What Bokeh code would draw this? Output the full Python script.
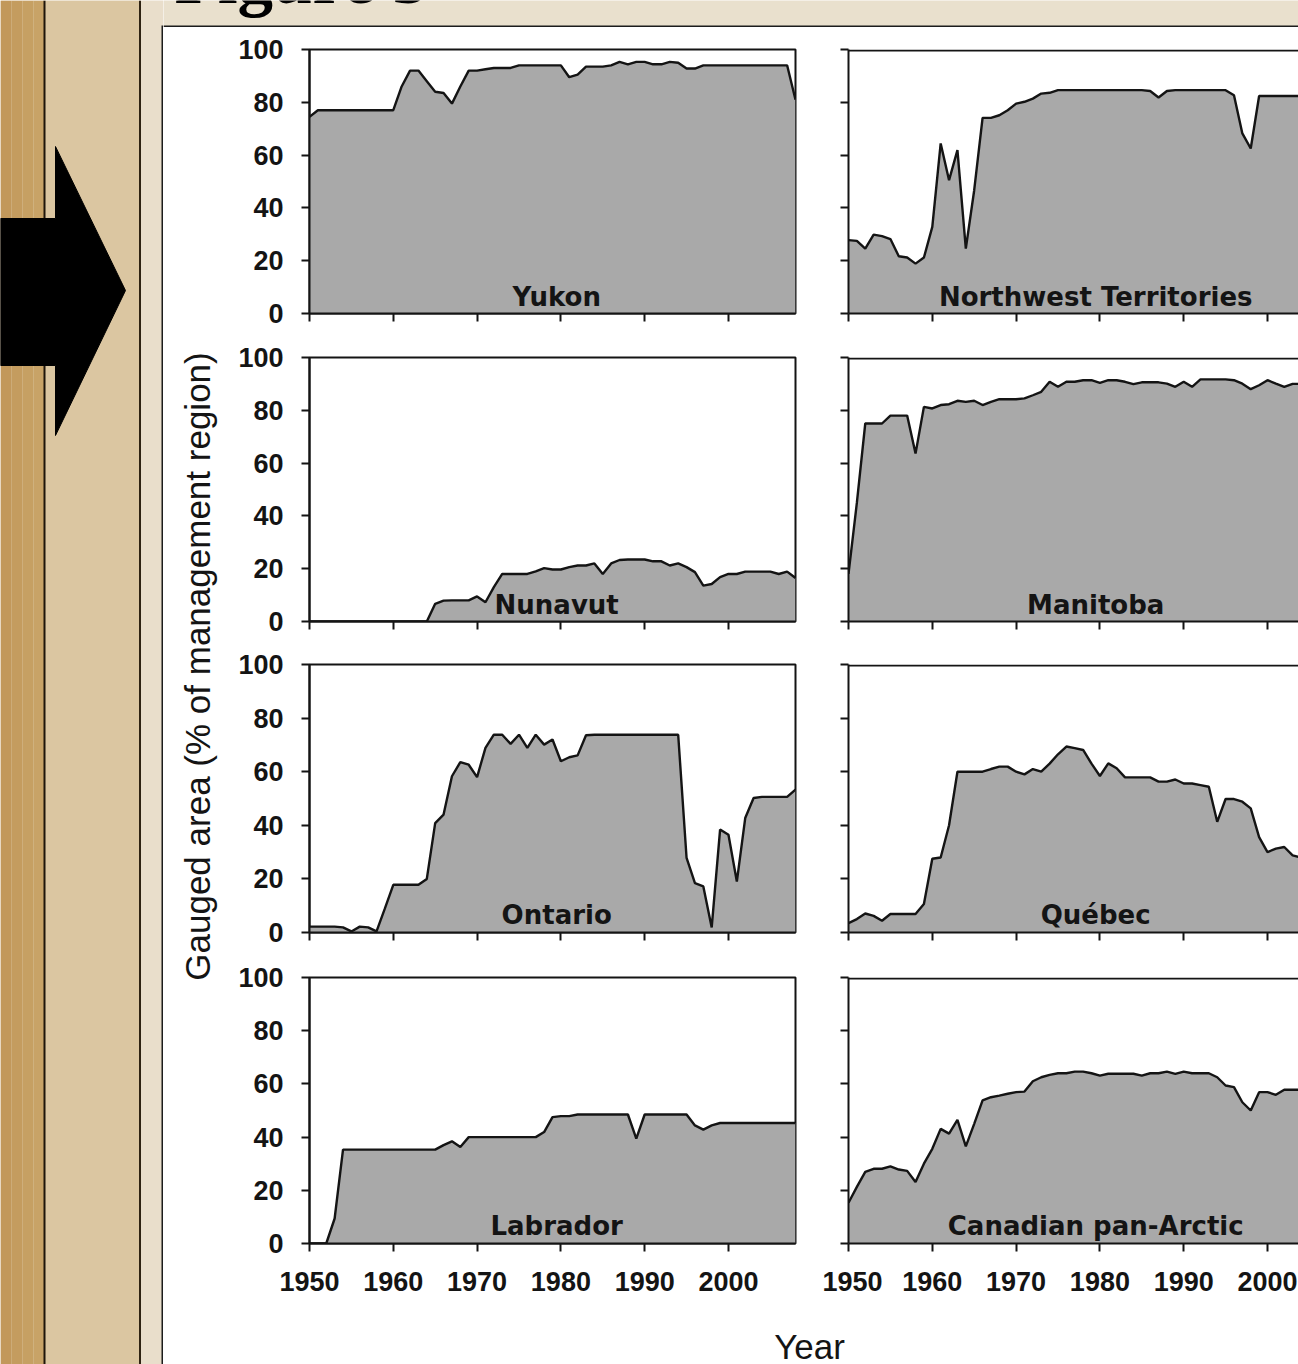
import math
from bokeh.plotting import figure
from bokeh.layouts import row, column
from bokeh.models import Range1d, Span, FixedTicker, Label
from bokeh.core.properties import value
from bokeh.embed import file_html
from bokeh.resources import INLINE

# ---------------- data ----------------
years = list(range(1950, 2009))
year_ticks = [1950, 1960, 1970, 1980, 1990, 2000]
pct_ticks = [0, 20, 40, 60, 80, 100]

yukon = [74.5, 77, 77, 77, 77, 77, 77, 77, 77, 77,
         77, 86, 92, 92, 88, 84, 83.5, 79.5, 86, 92,
         92, 92.5, 93, 93, 93, 94, 94, 94, 94, 94,
         94, 89.5, 90.5, 93.5, 93.5, 93.5, 94, 95.3, 94.4, 95.3,
         95.3, 94.4, 94.4, 95.3, 95, 92.8, 92.8, 94, 94, 94,
         94, 94, 94, 94, 94, 94, 94, 94, 81]

nwt = [27.8, 27.5, 24.6, 29.9, 29.3, 28.2, 21.7, 21.2, 18.9, 21.2,
       32.8, 64.4, 50.5, 61.9, 24.6, 46.7, 74.1, 74.1, 75.1, 77,
       79.5, 80.2, 81.4, 83.3, 83.6, 84.6, 84.6, 84.6, 84.6, 84.6,
       84.6, 84.6, 84.6, 84.6, 84.6, 84.6, 84.3, 81.8, 84.3, 84.6,
       84.6, 84.6, 84.6, 84.6, 84.6, 84.6, 82.7, 68.2, 62.5, 82.4,
       82.4, 82.4, 82.4, 82.4, 82.4, 82.4, 82.4, 82.4, 82.4]

nunavut = [0, 0, 0, 0, 0, 0, 0, 0, 0, 0,
           0, 0, 0, 0, 0, 6.7, 7.9, 8, 8, 8,
           9.5, 7.3, 13, 18, 18, 18, 18, 19, 20.2, 19.7,
           19.7, 20.6, 21.2, 21.2, 22, 18, 22, 23.3, 23.5, 23.5,
           23.5, 22.8, 22.8, 21.2, 22, 20.6, 18.7, 13.6, 14.2, 16.8,
           18, 18, 18.9, 18.9, 18.9, 18.9, 18, 18.9, 16.5]

manitoba = [18, 45, 75, 75, 75, 78, 78, 78, 63.6, 81.3,
            80.7, 82, 82.3, 83.6, 83.2, 83.6, 82, 83.2, 84.2, 84.2,
            84.2, 84.5, 85.7, 87, 90.8, 88.9, 90.8, 90.8, 91.4, 91.4,
            90.4, 91.4, 91.4, 90.8, 89.9, 90.6, 90.6, 90.6, 90.1, 88.9,
            90.8, 88.9, 91.7, 91.7, 91.7, 91.7, 91.4, 90.1, 88, 89.5,
            91.4, 90.1, 88.9, 90, 90, 89.5, 89.5, 89.5, 89.5]

ontario = [2.2, 2.2, 2.2, 2.2, 1.9, 0.4, 2.2, 1.9, 0.4, 9,
           17.8, 17.8, 17.8, 17.8, 20, 40.8, 44, 58.3, 63.6, 62.6,
           58, 68.9, 73.8, 73.8, 70.4, 73.8, 68.9, 73.8, 70.1, 72,
           63.9, 65.4, 66.1, 73.6, 73.8, 73.8, 73.8, 73.8, 73.8, 73.8,
           73.8, 73.8, 73.8, 73.8, 73.8, 27.8, 18.4, 17.2, 1.9, 38.4,
           36.5, 19, 42.7, 50.2, 50.6, 50.6, 50.6, 50.6, 53.3]

quebec = [3.5, 5, 7.1, 6.2, 4.4, 6.9, 6.9, 6.9, 6.9, 10.6,
          27.5, 28, 40, 60, 60, 60, 60, 61, 61.9, 61.9,
          60, 59, 61, 60, 63, 66.5, 69.4, 68.8, 68.1, 63,
          58.4, 63.1, 61.3, 57.9, 57.9, 57.9, 57.9, 56.3, 56.3, 57.1,
          55.6, 55.6, 55, 54.4, 41.3, 49.8, 49.8, 48.8, 46.3, 35.6,
          30, 31.3, 31.9, 28.8, 28, 28, 28, 28, 28]

labrador = [0, 0, 0, 9.4, 35.3, 35.3, 35.3, 35.3, 35.3, 35.3,
            35.3, 35.3, 35.3, 35.3, 35.3, 35.3, 37, 38.4, 36.3, 40,
            40, 40, 40, 40, 40, 40, 40, 40, 41.9, 47.5,
            47.9, 47.9, 48.5, 48.5, 48.5, 48.5, 48.5, 48.5, 48.5, 39.4,
            48.5, 48.5, 48.5, 48.5, 48.5, 48.5, 44.4, 42.8, 44.4, 45.3,
            45.3, 45.3, 45.3, 45.3, 45.3, 45.3, 45.3, 45.3, 45.3]

pan_arctic = [15.3, 21.3, 26.9, 28.1, 28.1, 29, 27.8, 27.3, 23.1, 30,
              35.6, 43.1, 41.3, 46.5, 36.5, 45, 53.8, 55, 55.6, 56.3,
              56.9, 57.1, 61, 62.5, 63.4, 64, 64, 64.6, 64.6, 64,
              63.1, 63.8, 63.8, 63.8, 63.8, 63.1, 64, 64, 64.6, 63.8,
              64.6, 64, 64, 64, 62.5, 59.4, 58.8, 53.1, 50, 56.9,
              56.9, 55.9, 57.8, 57.8, 57.8, 57.8, 57.8, 57.8, 57.8]

left_names = ["Yukon", "Nunavut", "Ontario", "Labrador"]
left_series = [yukon, nunavut, ontario, labrador]
right_names = ["Northwest Territories", "Manitoba", "Québec", "Canadian pan-Arctic"]
right_series = [nwt, manitoba, quebec, pan_arctic]

y_title = "Gauged area (% of management region)"
x_title = "Year"
fig_title = "Figure 5"

for s in left_series + right_series:
    assert len(s) == len(years)

# ---------------- styles ----------------
INK = "#141414"
FILL = "#a9a9a9"
TICK_FONT = "Liberation Sans"
LABEL_FONT = "DejaVu Sans"

# (figure height, min_border_top, min_border_bottom) per row
ROWS = [(308, 22, 22), (308, 22, 22), (311, 21, 22), (346, 23, 57)]
COLW = [587, 476]
BORDER_L = [74, 26]
BORDER_R = [27, 0]
X_END = [2008, 2003.7]


def make_panel(name, vals, col, r):
    H, top, bot = ROWS[r]
    p = figure(width=COLW[col], height=H,
               x_range=Range1d(1950, X_END[col]), y_range=Range1d(0, 100),
               output_backend="svg", toolbar_location=None,
               min_border_left=BORDER_L[col], min_border_right=BORDER_R[col],
               min_border_top=top, min_border_bottom=bot,
               background_fill_color="white", border_fill_color="white")
    p.grid.visible = False
    p.varea(x=years, y1=[0] * len(years), y2=vals, fill_color=FILL)
    p.line(years, vals, line_color=INK, line_width=2.4)
    p.text(x=[1979.5], y=[6.4], text=[name],
           text_font=value(LABEL_FONT), text_font_style="bold",
           text_font_size="26px", text_color=INK,
           text_align="center", text_baseline="alphabetic")
    for ax in p.axis:
        ax.axis_line_color = INK
        ax.axis_line_width = 2
        ax.major_tick_line_color = INK
        ax.major_tick_line_width = 2
        ax.major_tick_out = 8
        ax.major_tick_in = 0
        ax.minor_tick_line_color = None
        ax.major_label_text_font = TICK_FONT
        ax.major_label_text_font_style = "bold"
        ax.major_label_text_font_size = "27px"
        ax.major_label_text_color = INK
    p.xaxis.ticker = FixedTicker(ticks=year_ticks)
    p.yaxis.ticker = FixedTicker(ticks=pct_ticks)
    p.yaxis.major_label_standoff = 18
    p.xaxis.major_label_standoff = 20
    if col == 1:
        p.yaxis.major_label_overrides = {t: "" for t in pct_ticks}
        p.yaxis.major_label_text_font_size = "10px"
        p.yaxis.major_label_standoff = 0
    if r < 3:
        p.xaxis.major_label_overrides = {t: "" for t in year_ticks}
        p.xaxis.major_label_text_font_size = "10px"
        p.xaxis.major_label_standoff = 0
    if col == 0:
        p.outline_line_color = INK
        p.outline_line_width = 2
    else:
        p.outline_line_color = None
        p.add_layout(Span(location=99.65, dimension="width",
                          line_color=INK, line_width=2))
    return p


left_figs = [make_panel(n, s, 0, i) for i, (n, s) in enumerate(zip(left_names, left_series))]
right_figs = [make_panel(n, s, 1, i) for i, (n, s) in enumerate(zip(right_names, right_series))]


def blank(w, h, xr, yr, bg):
    f = figure(width=w, height=h, x_range=Range1d(*xr), y_range=Range1d(*yr),
               output_backend="svg", toolbar_location=None,
               x_axis_type=None, y_axis_type=None,
               min_border=0, min_border_left=0, min_border_right=0,
               min_border_top=0, min_border_bottom=0,
               background_fill_color=bg, border_fill_color=bg)
    f.grid.visible = False
    f.outline_line_color = None
    return f


# left decorative strip of the slide (page pixel coordinates)
deco = blank(163, 1364, (0, 163), (1364, 0), "#e9decb")
deco.quad(left=[0, 11, 22, 33], right=[11, 22, 33, 44],
          top=[0] * 4, bottom=[1364] * 4,
          fill_color=["#c2985b", "#c49c5f", "#c6a063", "#c8a367"], line_color=None)
deco.quad(left=[44], right=[139], top=[0], bottom=[1364], fill_color="#dbc6a1", line_color=None)
deco.quad(left=[43], right=[45], top=[0], bottom=[1364], fill_color="#1e150a", line_color=None)
deco.quad(left=[138.5], right=[140.5], top=[0], bottom=[1364], fill_color="#2e2212", line_color=None)
deco.quad(left=[161], right=[163], top=[25], bottom=[1364], fill_color="#1c1c1c", line_color=None)
deco.patch(x=[0, 55, 55, 125, 55, 55, 0], y=[218, 218, 146, 290, 435, 365, 365],
           fill_color="black", line_color="black")

# title strip
title_fig = blank(1135, 27, (163, 1298), (27, 0), "#e9e0cd")
title_fig.add_layout(Label(x=174, y=-22, text=fig_title, text_font="Liberation Serif",
                           text_font_style="bold", text_font_size="71px", text_color="black",
                           text_align="left", text_baseline="alphabetic"))
title_fig.add_layout(Span(location=26, dimension="width", line_color="#1c1c1c", line_width=2))

# y-axis title
ylab_fig = blank(72, 1273, (163, 235), (1300, 27), "white")
ylab_fig.text(x=[197], y=[666], text=[y_title], angle=math.pi / 2,
              text_font=value("Liberation Sans"), text_font_size="35px", text_color=INK,
              text_align="center", text_baseline="middle")

# x-axis title
year_fig = blank(1135, 64, (163, 1298), (1364, 1300), "white")
year_fig.text(x=[809], y=[1345.5], text=[x_title],
              text_font=value("Liberation Sans"), text_font_size="35px", text_color=INK,
              text_align="center", text_baseline="alphabetic")

root = row(deco,
           column(title_fig,
                  row(ylab_fig, column(*left_figs), column(*right_figs)),
                  year_fig))

open("out.html", "w").write(file_html(root, INLINE))
